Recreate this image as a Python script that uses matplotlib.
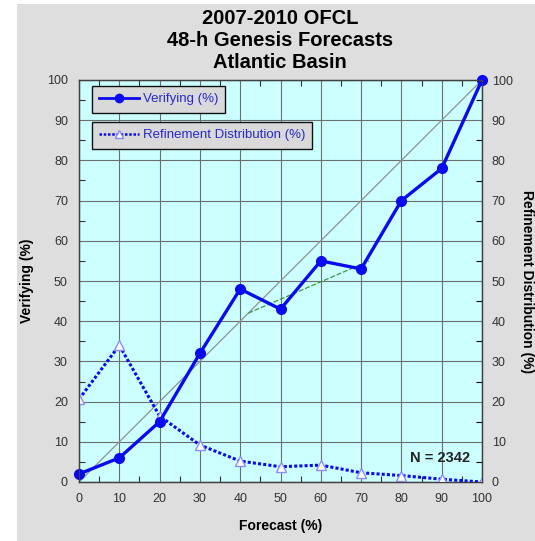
import matplotlib
matplotlib.use("Agg")
import matplotlib.pyplot as plt
from matplotlib.lines import Line2D
from matplotlib.patches import Rectangle
from matplotlib.ticker import MultipleLocator

plt.rcParams['font.family'] = ['Liberation Sans', 'DejaVu Sans']

# Forecast probability bins (%)
forecast = [0, 10, 20, 30, 40, 50, 60, 70, 80, 90, 100]
# Observed genesis frequency for each bin (%)
verifying = [2, 6, 15, 32, 48, 43, 55, 53, 70, 78, 100]
# Share of all forecasts falling in each bin (%)
refinement = [20.6, 34, 16.4, 9.2, 5.2, 3.8, 4.2, 2.3, 1.6, 0.7, 0]
# Short trend segment through the mid-range bins
trend_x = [42, 72]
trend_y = [42, 55]
n_forecasts = 2342
ticks = list(range(0, 101, 10))

W, H = 535, 541
fig = plt.figure(figsize=(W / 100, H / 100), dpi=100)
fig.patch.set_facecolor('white')
fig.patches.append(Rectangle((17 / W, 0), 1 - 17 / W, (H - 4) / H,
                             transform=fig.transFigure, facecolor='#dedede',
                             edgecolor='none', zorder=-10))

ax = fig.add_axes([79 / W, (H - 482) / H, 403 / W, 402 / H])
ax.set_facecolor('#ccffff')
ax.set_xlim(0, 100)
ax.set_ylim(0, 100)

blue = '#0a0aee'
ax.plot([0, 100], [0, 100], color='#909090', lw=0.9, zorder=2)
ax.plot(trend_x, trend_y, color='#3a9a3a', lw=0.9, ls=(0, (4, 1.5)), zorder=2)
ax.plot(forecast, refinement, color=blue, lw=2.2, ls=(0, (1, 0.7)),
        marker='^', ms=6.5, mfc='white', mec='#8c8cff', mew=1.0, zorder=3)
ax.plot(forecast, verifying, color=blue, lw=2.4, marker='o', ms=7,
        mfc=blue, mec=blue, zorder=4, clip_on=False)

ax.set_xticks(ticks)
ax.set_yticks(ticks)
ax.xaxis.set_minor_locator(MultipleLocator(5))
ax.yaxis.set_minor_locator(MultipleLocator(5))
ax.grid(True, which='major', color='#6e6e6e', lw=0.8)
ax.set_axisbelow(True)
ax.tick_params(which='both', direction='in', top=True, right=False,
               labelsize=9, colors='#333333', labelcolor='#333333')
ax.tick_params(which='major', length=0, pad=8)
ax.tick_params(which='minor', length=4, width=0.8)
for s in ax.spines.values():
    s.set_color('#404040')
    s.set_linewidth(1.0)

ax2 = ax.twinx()
ax2.set_ylim(0, 100)
ax2.set_yticks(ticks)
ax2.yaxis.set_minor_locator(MultipleLocator(5))
ax2.tick_params(which='both', direction='in', labelsize=9, labelcolor='#333333')
ax2.tick_params(which='major', length=0, pad=7)
ax2.tick_params(which='minor', length=4, width=0.8)
for s in ax2.spines.values():
    s.set_color('#404040')

ax.set_xlabel('Forecast (%)', fontsize=10, fontweight='bold', labelpad=10)
ax.set_ylabel('Verifying (%)', fontsize=10, fontweight='bold', labelpad=9)
fig.text(527 / W, 1 - 282 / H, 'Refinement Distribution (%)', rotation=270,
         ha='center', va='center', fontsize=10, fontweight='bold')

fig.text(280 / W, 1 - 40 / H, '2007-2010 OFCL\n48-h Genesis Forecasts\nAtlantic Basin',
         ha='center', va='center', fontsize=14.5, fontweight='bold',
         linespacing=1.2)

ax.text(97, 6, f'N = {n_forecasts}', ha='right', va='center',
        fontsize=10.5, fontweight='bold', color='#222222', zorder=5)

h1 = Line2D([], [], color=blue, lw=2.0, marker='o', ms=6, mfc=blue, mec=blue)
h2 = Line2D([], [], color=blue, lw=1.8, ls=(0, (1, 0.7)), marker='^', ms=6,
            mfc='white', mec='#8c8cff', mew=1.0)
leg_kw = dict(fontsize=9.5, frameon=True, fancybox=False, facecolor='#d9d9d9',
              edgecolor='#111111', framealpha=1, handlelength=3.0,
              borderpad=0.55, handletextpad=0.3, borderaxespad=0)
leg1 = ax.legend([h1], ['Verifying (%)'], loc='upper left',
                 bbox_to_anchor=(13 / 403, 1 - 6 / 402), **leg_kw)
for t in leg1.get_texts():
    t.set_color('#2828d0')
leg1.get_frame().set_linewidth(1.0)
ax.add_artist(leg1)
leg2 = ax.legend([h2], ['Refinement Distribution (%)'], loc='upper left',
                 bbox_to_anchor=(13 / 403, 1 - 42 / 402), **leg_kw)
for t in leg2.get_texts():
    t.set_color('#2828d0')
leg2.get_frame().set_linewidth(1.0)

fig.savefig('out.png', dpi=100, facecolor=fig.get_facecolor())
